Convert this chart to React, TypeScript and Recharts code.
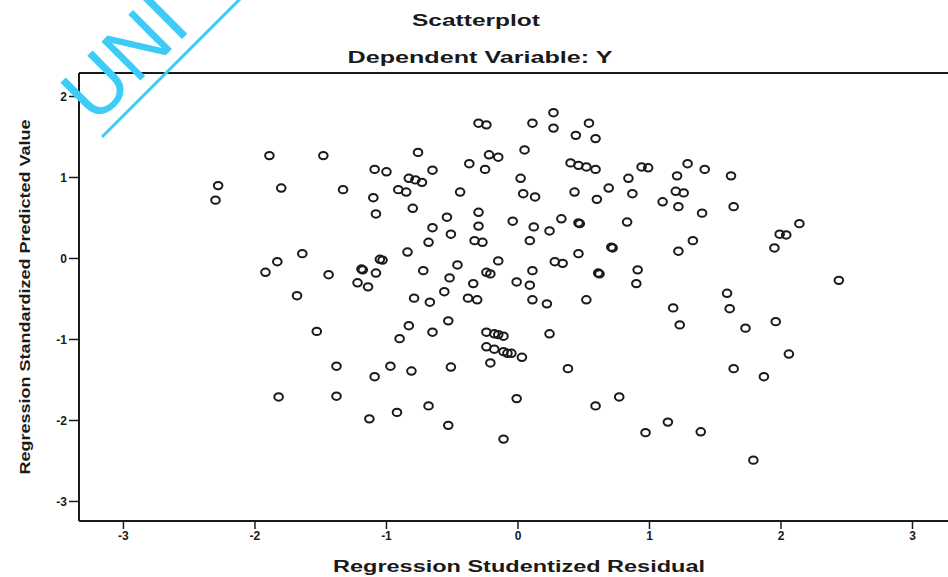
import { ScatterChart, Scatter, XAxis, YAxis, ReferenceLine } from 'recharts';

// Regression Studentized Residual (x)
const residuals = [
  -1.89, -1.48, -2.28, -2.3, -1.8, -1.64, -1.83, -1.92, -1.68, -1.44, -1.53, -1.82, -1.33, -1.38, -1.38,
  -1.09, -1.0, -0.76, -0.83, -0.78, -0.73, -0.65, -0.91, -0.85, -1.1, -1.08, -0.8, -0.44, -0.37, -0.25,
  -0.3, -0.24, -0.22, -0.15, -0.3, -0.54, -0.65, -0.51, -0.68, -0.3, -0.33, -0.27, -0.84, -1.05, -1.03,
  -1.19, -1.18, -1.08, -1.22, -1.14, -0.72, -0.46, -0.15, -0.52, -0.24, -0.21, -0.34, -0.56, -0.79, -0.67,
  -0.38, -0.31, 0.27, 0.11, 0.27, 0.54, 0.44, 0.59, 0.05, 0.4, 0.46, 0.52, 0.59, 0.94, 0.99,
  0.02, 0.04, 0.13, 0.43, 0.6, 0.69, 0.84, 0.87, -0.04, 0.12, 0.24, 0.33, 0.46, 0.47, 0.83,
  0.09, 0.71, 0.72, 0.46, 0.28, 0.34, 0.11, 0.61, 0.62, 0.91, 0.9, -0.01, 0.09, 0.11, 0.22,
  0.52, 1.29, 1.42, 1.21, 1.62, 1.2, 1.26, 1.1, 1.22, 1.4, 1.64, 2.14, 1.99, 2.04, 1.95,
  1.33, 1.22, 2.44, 1.59, 1.18, 1.61, 1.23, 1.73, 1.96, 2.06, 1.64, 1.87, 0.97, 1.14, 1.39,
  1.79, -0.53, -0.83, -0.9, -0.65, -0.24, -0.18, -0.15, -0.11, -0.24, -0.18, -0.11, -0.08, -0.05, 0.03,
  -0.21, 0.24, -1.09, -0.97, -0.81, -0.51, 0.38, -1.13, -0.92, -0.68, -0.53, -0.11, -0.01, 0.59, 0.77,
];

// Regression Standardized Predicted Value (y)
const predicted = [
  1.27, 1.27, 0.9, 0.72, 0.87, 0.06, -0.04, -0.17, -0.46, -0.2, -0.9, -1.71, 0.85, -1.33, -1.7,
  1.1, 1.07, 1.31, 0.99, 0.97, 0.94, 1.09, 0.85, 0.82, 0.75, 0.55, 0.62, 0.82, 1.17, 1.1,
  1.67, 1.65, 1.28, 1.25, 0.57, 0.51, 0.38, 0.3, 0.2, 0.4, 0.22, 0.2, 0.08, -0.01, -0.02,
  -0.13, -0.14, -0.18, -0.3, -0.35, -0.15, -0.08, -0.03, -0.24, -0.17, -0.19, -0.31, -0.41, -0.49, -0.54,
  -0.49, -0.51, 1.8, 1.67, 1.61, 1.67, 1.52, 1.48, 1.34, 1.18, 1.15, 1.13, 1.1, 1.13, 1.12,
  0.99, 0.8, 0.76, 0.82, 0.73, 0.87, 0.99, 0.8, 0.46, 0.39, 0.34, 0.49, 0.44, 0.43, 0.45,
  0.22, 0.14, 0.13, 0.06, -0.04, -0.06, -0.15, -0.18, -0.19, -0.14, -0.31, -0.29, -0.33, -0.51, -0.56,
  -0.51, 1.17, 1.1, 1.02, 1.02, 0.83, 0.81, 0.7, 0.64, 0.56, 0.64, 0.43, 0.3, 0.29, 0.13,
  0.22, 0.09, -0.27, -0.43, -0.61, -0.62, -0.82, -0.86, -0.78, -1.18, -1.36, -1.46, -2.15, -2.02, -2.14,
  -2.49, -0.77, -0.83, -0.99, -0.91, -0.91, -0.93, -0.94, -0.96, -1.09, -1.12, -1.15, -1.17, -1.17, -1.22,
  -1.29, -0.93, -1.46, -1.33, -1.39, -1.34, -1.36, -1.98, -1.9, -1.82, -2.06, -2.23, -1.73, -1.82, -1.71,
];

const xTicks = [-3, -2, -1, 0, 1, 2, 3];
const yTicks = [-3, -2, -1, 0, 1, 2];

const X_DOMAIN: [number, number] = [-3.338, 3.27];
const Y_DOMAIN: [number, number] = [-3.241, 2.29];

const FONT = '"Liberation Sans", Arial, Helvetica, sans-serif';
const INK = '#1a1a1a';
const CYAN = '#3dcbf7';

const points = residuals.map((x, i) => ({ x, y: predicted[i] }));

function OpenCircle(props: any) {
  const { cx, cy } = props;
  if (cx == null || cy == null) return null;
  return <ellipse cx={cx} cy={cy} rx={4.3} ry={3.7} fill="none" stroke={INK} strokeWidth={2} />;
}

const tickStyle = { fontSize: 12, fontWeight: 700, fill: INK, fontFamily: FONT };

export default function App() {
  return (
    <div style={{ position: 'absolute', left: 0, top: 0, width: 948, height: 577, background: '#fff' }}>
      <ScatterChart width={948} height={577} margin={{ top: 73, right: 0, bottom: 0, left: 0 }}>
        <XAxis
          type="number"
          dataKey="x"
          domain={X_DOMAIN}
          ticks={xTicks}
          allowDataOverflow
          height={56}
          tickSize={8}
          tickMargin={2}
          tick={tickStyle}
          axisLine={{ stroke: INK, strokeWidth: 2 }}
          tickLine={{ stroke: INK, strokeWidth: 1.5 }}
        />
        <YAxis
          type="number"
          dataKey="y"
          domain={Y_DOMAIN}
          ticks={yTicks}
          allowDataOverflow
          width={79}
          tickSize={10}
          tickMargin={2}
          tick={tickStyle}
          axisLine={{ stroke: INK, strokeWidth: 2 }}
          tickLine={{ stroke: INK, strokeWidth: 1.5 }}
        />
        <ReferenceLine y={Y_DOMAIN[1]} stroke={INK} strokeWidth={2} />
        <Scatter data={points} shape={OpenCircle} isAnimationActive={false} />
      </ScatterChart>

      <svg
        width={948}
        height={577}
        style={{ position: 'absolute', left: 0, top: 0, pointerEvents: 'none' }}
      >
        <g fontFamily={FONT} fontWeight={700} fill={INK}>
          <text x={476} y={26} fontSize={17} textAnchor="middle" textLength={128} lengthAdjust="spacingAndGlyphs">
            Scatterplot
          </text>
          <text x={480} y={63} fontSize={17} textAnchor="middle" textLength={265} lengthAdjust="spacingAndGlyphs">
            Dependent Variable: Y
          </text>
          <text x={519} y={572} fontSize={16} textAnchor="middle" textLength={372} lengthAdjust="spacingAndGlyphs">
            Regression Studentized Residual
          </text>
          <text
            x={0}
            y={0}
            fontSize={15}
            textAnchor="middle"
            textLength={355}
            lengthAdjust="spacingAndGlyphs"
            transform="translate(30,297) rotate(-90)"
          >
            Regression Standardized Predicted Value
          </text>
        </g>
        {/* watermark, cut off at the top edge as in the scan */}
        <text
          x={0}
          y={0}
          fontFamily={FONT}
          fontSize={80}
          fill={CYAN}
          transform="translate(95,126) rotate(-45)"
        >
          UNI
        </text>
        <line x1={102} y1={137} x2={250} y2={-11} stroke={CYAN} strokeWidth={3} />
      </svg>
    </div>
  );
}
